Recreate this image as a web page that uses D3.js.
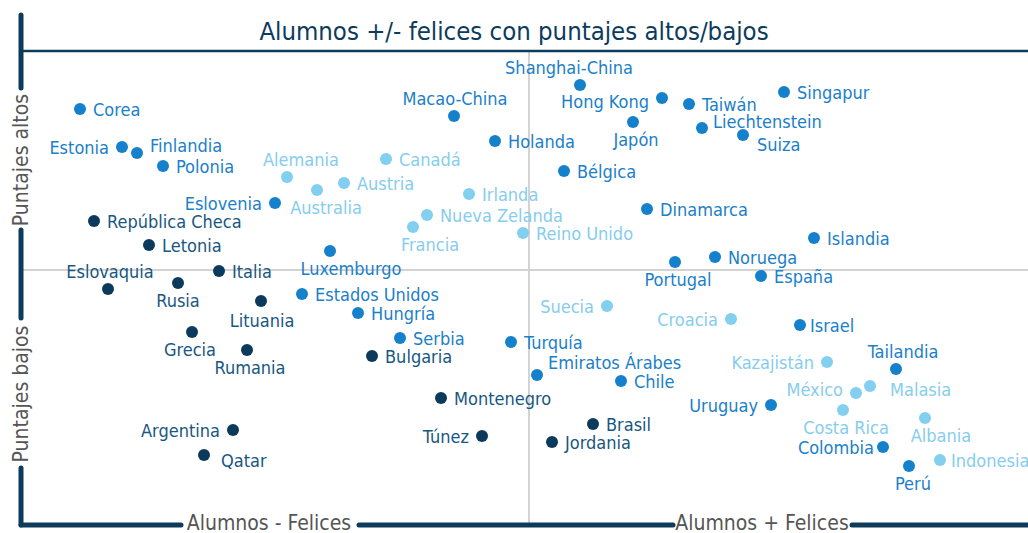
<html>
<head>
<meta charset="utf-8">
<script src="https://cdnjs.cloudflare.com/ajax/libs/d3/7.8.5/d3.min.js"></script>
<style>
body {
    margin: 0;
    background: white;
}
svg text {
    font-family: "DejaVu Sans Condensed", "DejaVu Sans", sans-serif;
}
</style>
</head>
<body>
<svg id="canvas" width="1028" height="533"></svg>
<script>
// x = how happy students are (relative), y = score (relative)
var countries = ["Corea", "Estonia", "Finlandia", "Polonia", "Alemania", "Canadá", "Austria", "Australia",
    "Eslovenia", "Irlanda", "Nueva Zelanda", "Francia", "Reino Unido", "República Checa", "Letonia",
    "Luxemburgo", "Eslovaquia", "Italia", "Rusia", "Lituania", "Estados Unidos", "Hungría", "Grecia",
    "Rumania", "Serbia", "Bulgaria", "Montenegro", "Argentina", "Qatar", "Túnez", "Macao-China",
    "Holanda", "Shanghai-China", "Hong Kong", "Taiwán", "Japón", "Singapur", "Liechtenstein", "Suiza",
    "Bélgica", "Dinamarca", "Islandia", "Noruega", "Portugal", "España", "Suecia", "Croacia", "Israel",
    "Turquía", "Emiratos Árabes", "Chile", "Kazajistán", "Tailandia", "México", "Malasia", "Uruguay",
    "Costa Rica", "Albania", "Colombia", "Perú", "Indonesia", "Brasil", "Jordania"];
var happy = [-44.9, -40.7, -39.2, -36.6, -24.2, -14.3, -18.5, -21.2,
    -25.4, -6.0, -10.2, -11.6, -0.6, -43.5, -38.0,
    -19.9, -42.1, -31.0, -35.1, -26.8, -22.7, -17.1, -33.7,
    -28.2, -12.9, -15.7, -8.8, -29.6, -32.5, -4.7, -7.5,
    -3.4, 5.1, 13.3, 16.0, 10.4, 25.5, 17.3, 21.4,
    3.5, 11.8, 28.5, 18.6, 14.6, 23.2, 7.8, 20.2, 27.1,
    -1.8, 0.8, 9.2, 29.8, 36.7, 32.7, 34.1, 24.2,
    31.4, 39.6, 35.4, 38.0, 41.1, 6.4, 2.3];
var score = [16.1, 12.3, 11.7, 10.4, 9.3, 11.1, 8.7, 8.0,
    6.7, 7.6, 5.5, 4.3, 3.7, 4.9, 2.5,
    1.9, -1.9, -0.1, -1.3, -3.1, -2.4, -4.3, -6.2,
    -8.0, -6.8, -8.6, -12.8, -16.0, -18.5, -16.6, 15.4,
    12.9, 18.5, 17.2, 16.6, 14.8, 17.8, 14.2, 13.5,
    9.9, 6.1, 3.2, 1.3, 0.8, -0.6, -3.6, -4.9, -5.5,
    -7.2, -10.5, -11.1, -9.2, -9.9, -12.3, -11.6, -13.5,
    -14.0, -14.8, -17.7, -19.6, -19.0, -15.4, -17.2];
var groups = ["mid", "mid", "mid", "mid", "light", "light", "light", "light",
    "mid", "light", "light", "light", "light", "dark", "dark",
    "mid", "dark", "dark", "dark", "dark", "mid", "mid", "dark",
    "dark", "mid", "dark", "dark", "dark", "dark", "dark", "mid",
    "mid", "mid", "mid", "mid", "mid", "mid", "mid", "mid",
    "mid", "mid", "mid", "mid", "mid", "mid", "light", "light", "mid",
    "mid", "mid", "mid", "light", "mid", "light", "light", "mid",
    "light", "light", "mid", "mid", "light", "dark", "dark"];

var title = "Alumnos +/- felices con puntajes altos/bajos";
var xLabels = ["Alumnos - Felices", "Alumnos + Felices"];
var yLabels = ["Puntajes altos", "Puntajes bajos"];

// label placement: side, extra dx, extra dy
var place = {
    "Estonia": ["l", 0, 0], "Finlandia": ["r", 0, -8], "Alemania": ["t", 14, 0],
    "Australia": ["b", 9, 0], "Eslovenia": ["l", 0, 0], "Francia": ["b", 17, 0],
    "Luxemburgo": ["b", 21, 0], "Eslovaquia": ["t", 2, 0], "Rusia": ["b", 0, 0],
    "Lituania": ["b", 1, 2], "Grecia": ["b", -2, 0], "Rumania": ["b", 3, 0],
    "Argentina": ["l", 0, 0], "Túnez": ["l", 0, 0], "Macao-China": ["t", 1, 0],
    "Shanghai-China": ["t", -11, 0], "Hong Kong": ["l", 0, 3], "Japón": ["b", 3, 0],
    "Liechtenstein": ["r", -2, -7], "Suiza": ["r", 1, 9], "Portugal": ["b", 3, 0],
    "Suecia": ["l", 0, 0], "Croacia": ["l", 0, 0], "Israel": ["r", -3, 0],
    "Emiratos Árabes": ["r", -2, -13], "Kazajistán": ["l", 0, 0], "Tailandia": ["t", 7, 0],
    "México": ["l", 0, -4], "Malasia": ["r", 7, 3], "Uruguay": ["l", 0, 0],
    "Costa Rica": ["b", 3, 0], "Albania": ["b", 16, 0], "Colombia": ["l", 4, 0],
    "Perú": ["b", 4, 0], "Qatar": ["r", 4, 5], "Indonesia": ["r", -2, 0]
};

var dotColor = {dark: "#0c3a5c", mid: "#1580cb", light: "#82cff0"};
var textColor = {dark: "#18577f", mid: "#1a80c9", light: "#86cdee"};
var axisColor = "#0c3b5c";

var svg = d3.select("#canvas");
var W = 1028, H = 533;
var axisX = 21, bottomY = 525, topY = 51;

var x = d3.scaleLinear().domain([-50, 50]).range([29, 1029]);
var y = d3.scaleLinear().domain([-25, 25]).range([520, 20]);

// quadrant lines
svg.append("line").attr("x1", x(0)).attr("x2", x(0)).attr("y1", topY + 1).attr("y2", bottomY)
    .attr("stroke", "#d3d3d3").attr("stroke-width", 2);
svg.append("line").attr("x1", axisX).attr("x2", W).attr("y1", y(0)).attr("y2", y(0))
    .attr("stroke", "#d3d3d3").attr("stroke-width", 2);

// title + top rule
svg.append("text").attr("x", 514).attr("y", 40).attr("text-anchor", "middle")
    .attr("font-size", 25.5).attr("fill", axisColor).text(title);
svg.append("line").attr("x1", axisX).attr("x2", W).attr("y1", topY).attr("y2", topY)
    .attr("stroke", axisColor).attr("stroke-width", 2.5);

// left/bottom axis, broken where the labels sit
function seg(x1, y1, x2, y2) {
    svg.append("line").attr("x1", x1).attr("y1", y1).attr("x2", x2).attr("y2", y2)
        .attr("stroke", axisColor).attr("stroke-width", 5).attr("stroke-linecap", "round");
}
seg(axisX, 15, axisX, 88);
seg(axisX, 230, axisX, 318);
seg(axisX, 468, axisX, bottomY);
seg(axisX, bottomY, 181, bottomY);
seg(359, bottomY, 673, bottomY);
seg(852, bottomY, W + 5, bottomY);

svg.selectAll("text.xl").data(xLabels).enter().append("text")
    .attr("class", "xl")
    .attr("x", (d, i) => i == 0 ? 269 : 762)
    .attr("y", 530)
    .attr("text-anchor", "middle")
    .attr("font-size", 21)
    .attr("fill", "#555")
    .text(d => d);
svg.selectAll("text.yl").data(yLabels).enter().append("text")
    .attr("class", "yl")
    .attr("transform", (d, i) => "translate(28," + (i == 0 ? 160 : 394) + ") rotate(-90)")
    .attr("text-anchor", "middle")
    .attr("font-size", 21)
    .attr("fill", "#555")
    .text(d => d);

var pts = countries.map((c, i) => ({name: c, hx: happy[i], sy: score[i], g: groups[i]}));

svg.selectAll("circle.pt").data(pts).enter().append("circle")
    .attr("class", "pt")
    .attr("cx", d => x(d.hx))
    .attr("cy", d => y(d.sy))
    .attr("r", 6)
    .attr("fill", d => dotColor[d.g]);

svg.selectAll("text.lab").data(pts).enter().append("text")
    .attr("class", "lab")
    .attr("font-size", 18)
    .attr("fill", d => textColor[d.g])
    .each(function(d) {
        var p = place[d.name] || ["r", 0, 0];
        var cx = x(d.hx), cy = y(d.sy), t = d3.select(this);
        if (p[0] == "r") t.attr("x", cx + 13 + p[1]).attr("y", cy + 7 + p[2]).attr("text-anchor", "start");
        if (p[0] == "l") t.attr("x", cx - 13 + p[1]).attr("y", cy + 7 + p[2]).attr("text-anchor", "end");
        if (p[0] == "t") t.attr("x", cx + p[1]).attr("y", cy - 11 + p[2]).attr("text-anchor", "middle");
        if (p[0] == "b") t.attr("x", cx + p[1]).attr("y", cy + 24 + p[2]).attr("text-anchor", "middle");
    })
    .text(d => d.name);
</script>
</body>
</html>
